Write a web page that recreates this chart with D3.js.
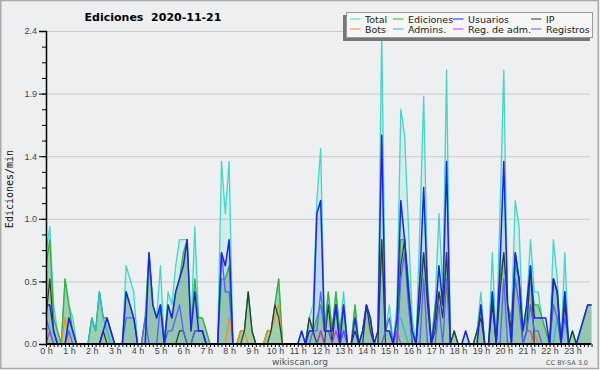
<!DOCTYPE html>
<html>
<head>
<meta charset="utf-8">
<script src="https://cdn.jsdelivr.net/npm/d3@7"></script>
<style>
body { margin: 0; background: #eeeff1; }
svg { display: block; font-family: "DejaVu Sans", sans-serif; }
</style>
</head>
<body>
<script>
// edits per minute, one value every 10 minutes (144 points, 00:00 -> 23:50)
var total = [
  0.7,0.9,0.3,0.1,0,0.5,0.3,0.2,0,0,0,0,
  0.2,0.1,0.4,0.2,0.2,0.1,0,0,0,0.6,0.5,0.4,
  0,0,0.2,0.7,0.3,0.2,0.6,0,0.4,0.3,0.6,0.8,
  0.8,0.8,0.1,0.9,0.2,0.2,0.1,0,0,0,1.4,1.0,
  1.4,0,0,0.1,0.1,0.4,0.1,0,0,0,0.1,0.1,
  0.3,0.5,0,0,0,0,0,0.1,0,0.2,0.3,1.1,
  1.5,0.1,0.4,0.1,0.4,0.1,0.4,0,0,0.3,0,0.1,
  0.3,0.2,0,0.1,2.4,0.1,0.3,0,0.3,1.8,1.6,0.9,
  0.2,0,0.9,1.9,0.5,0,0.3,1.0,0.4,2.1,0,0.1,
  0,0,0.1,0,0,0.1,0.4,0,0,0.7,0,1.0,
  2.1,0.3,0.2,1.1,0.9,0.1,0.3,0.8,0.4,0.4,0.2,0.1,
  0,0.8,0.5,0,0.7,0,0.1,0,0.1,0.2,0.3,0.3
];
var ediciones = [
  0.6,0.8,0.2,0.1,0,0.5,0.3,0.1,0,0,0,0,
  0.2,0.1,0.4,0.2,0.2,0.1,0,0,0,0.4,0.3,0.2,
  0,0,0.2,0.7,0.3,0.2,0.3,0,0.3,0.2,0.4,0.5,
  0.7,0.8,0.1,0.5,0.2,0.2,0.1,0,0,0,0.5,0.5,
  0.6,0,0,0.1,0.1,0.4,0.1,0,0,0,0.1,0.1,
  0.3,0.5,0,0,0,0,0,0,0,0.2,0.1,0.2,
  0.3,0.1,0.4,0.1,0.4,0.1,0.3,0,0,0.3,0,0.1,
  0.3,0.2,0,0,0.8,0.1,0.1,0,0.1,0.8,0.8,0.5,
  0.1,0,0.5,0.7,0.4,0,0.3,0.4,0.3,0.7,0,0.1,
  0,0,0,0,0,0.1,0.3,0,0,0.4,0,0.5,
  0.7,0.3,0.2,0.6,0.5,0.1,0.2,0.5,0.3,0.3,0.2,0.1,
  0,0.5,0.4,0,0.4,0,0.1,0,0.1,0.2,0.3,0.3
];
var usuarios = [
  0.3,0.3,0.1,0,0,0,0.2,0.1,0,0,0,0,
  0,0,0,0.1,0.2,0.1,0,0,0,0.4,0.3,0.2,
  0,0,0,0.7,0.3,0.2,0.3,0,0.3,0.2,0.4,0.5,
  0.6,0.8,0.1,0.4,0.1,0.1,0,0,0,0,0.7,0.6,
  0.8,0,0,0,0,0,0,0,0,0,0,0,
  0,0,0,0,0,0,0,0.1,0,0.1,0.1,1.0,
  1.1,0.1,0.1,0.1,0.3,0,0.3,0,0,0.2,0,0.1,
  0.3,0.2,0,0.1,1.6,0.1,0.1,0,0.2,1.1,0.8,0.4,
  0.1,0,0.5,1.2,0.4,0,0.2,0.6,0.3,1.4,0,0,
  0,0,0.1,0,0,0,0.3,0,0,0.4,0,0.6,
  1.4,0.3,0,0.7,0.5,0.1,0.3,0.6,0.2,0.2,0.2,0.2,
  0,0.5,0.4,0,0.4,0,0,0,0.1,0.2,0.3,0.3
];
var ip = [
  0.2,0.5,0.1,0,0,0,0,0,0,0,0,0,
  0,0,0,0.1,0,0,0,0,0,0,0,0,
  0,0,0,0,0,0,0,0,0,0,0,0.1,
  0.1,0,0,0.1,0.1,0.1,0,0,0,0,0,0,
  0,0,0,0,0.1,0.4,0.1,0,0,0,0,0.1,
  0.3,0.2,0,0,0,0,0,0,0,0.2,0.1,0,
  0.1,0,0.3,0,0.3,0,0.1,0,0,0.1,0,0,
  0.3,0.1,0,0,0.8,0,0,0,0,0.6,0.8,0.4,
  0,0,0.3,0.7,0.3,0,0.1,0.4,0.2,0.7,0,0.1,
  0,0,0,0,0,0.1,0.2,0,0,0.3,0,0.4,
  0.7,0.3,0.1,0.7,0.5,0,0.1,0.6,0,0,0,0,
  0,0.5,0.4,0,0.3,0,0.1,0,0,0,0,0
];
var bots = [
  0,0,0,0,0,0.2,0,0,0,0,0,0,
  0,0,0,0,0,0,0,0,0,0,0,0,
  0,0,0,0,0,0,0,0,0,0,0,0,
  0,0,0,0,0,0,0,0,0,0,0,0,
  0.2,0,0,0.1,0.1,0,0,0,0,0,0.1,0.1,
  0.2,0.3,0,0,0,0,0,0,0,0,0,0,
  0,0,0,0,0,0,0,0,0,0,0,0,
  0,0,0,0,0,0,0,0,0,0,0,0,
  0,0,0,0,0,0,0,0,0,0,0,0,
  0,0,0,0,0,0,0,0,0,0,0,0,
  0,0,0,0,0,0,0,0,0.1,0,0,0,
  0,0,0,0,0,0,0,0,0,0,0,0
];
var admins = [
  0,0,0,0,0,0,0.2,0.1,0,0,0,0,
  0.2,0.1,0.4,0.2,0.1,0,0,0,0,0,0,0,
  0,0,0,0,0,0,0,0,0,0,0,0,
  0,0,0,0,0,0,0,0,0,0,0,0,
  0,0,0,0,0,0,0,0,0,0,0,0,
  0,0,0,0,0,0,0,0,0,0,0,0,
  0,0,0,0,0,0,0,0,0,0,0,0,
  0,0,0,0,0,0,0,0,0.2,0.2,0.1,0,
  0,0,0,0,0,0,0,0,0,0,0,0,
  0,0,0,0,0,0,0,0,0,0,0,0,
  0,0,0,0,0,0,0.1,0.3,0.1,0,0,0,
  0,0,0.2,0,0,0,0,0,0,0,0,0
];
var regAdm = [
  0,0.1,0,0,0,0,0,0,0,0,0,0,
  0,0,0,0,0,0,0,0,0,0,0,0,
  0,0,0,0,0,0,0,0,0,0,0,0,
  0,0,0,0,0,0,0,0,0,0,0,0,
  0,0,0,0,0,0,0,0,0,0,0,0,
  0,0,0,0,0,0,0,0,0,0,0,0,
  0.1,0,0,0,0.1,0,0,0,0,0,0,0,
  0,0,0,0,0,0,0,0,0.1,0,0,0,
  0,0,0,0,0,0,0,0,0,0,0,0,
  0,0,0,0,0,0,0,0,0,0,0,0,
  0,0,0,0,0,0,0.1,0.1,0,0,0,0,
  0,0,0,0,0,0,0,0,0,0,0,0
];
var registros = [
  0.2,0.1,0,0,0,0,0.1,0,0,0,0,0,
  0,0,0,0,0,0,0,0,0,0.2,0.2,0.2,
  0,0,0.2,0,0,0,0.3,0,0.1,0.1,0.2,0.3,
  0.1,0,0,0.1,0.1,0.1,0,0,0,0,0.7,0.4,
  0.4,0,0,0,0,0,0,0,0,0,0,0,
  0,0,0,0,0,0,0,0,0,0,0.1,0.1,
  0.4,0.1,0.1,0,0,0,0.1,0,0,0,0,0,
  0,0,0,0,0,0.1,0.2,0,0,0.5,0.7,0.3,
  0,0,0,0.5,0,0,0,0.3,0,0.5,0,0,
  0,0,0,0,0,0,0,0,0,0,0,0,
  0.5,0,0,0.5,0.3,0,0.1,0.3,0.1,0.1,0,0,
  0,0.3,0.2,0,0.2,0,0,0,0,0,0,0
];

var yTicks = [0, 0.48, 0.96, 1.44, 1.92, 2.4];
var yTickLabels = ["0.0", "0.5", "1.0", "1.4", "1.9", "2.4"];
var hourLabels = d3.range(24).map(h => h + " h");
var legendNames = ["Total", "Ediciones", "Usuarios", "IP", "Bots", "Admins.", "Reg. de adm.", "Registros"];

var w = 600;
var h = 370;
var colors = {
    total: "#3fd8c8", ediciones: "#36b236", usuarios: "#1b22f0", ip: "#2e3a2e",
    bots: "#f39019", admins: "#2ab8d8", regAdm: "#cc33ee", registros: "#5560ff"
};
var legendColors = [colors.total, colors.ediciones, colors.usuarios, colors.ip,
    colors.bots, colors.admins, colors.regAdm, colors.registros];

var svg = d3.select("body").append("svg")
    .attr("width", w)
    .attr("height", h);

svg.append("rect")
    .attr("x", 0).attr("y", 0).attr("width", w).attr("height", h)
    .style("fill", "#eeeff1");

var x = d3.scaleLinear().domain([0, 1440]).range([46, 46 + 24 * 22.89]);
var y = d3.scaleLinear().domain([0, 2.4]).range([344, 31]);

// gridlines
svg.append("g")
    .attr("class", "grid")
    .attr("transform", "translate(46,0)")
    .call(d3.axisLeft(y).tickValues(yTicks).tickSize(-544).tickFormat(""))
    .call(g => g.select(".domain").remove())
    .call(g => g.selectAll("line").style("stroke", "#c9c9c9"));

svg.append("clipPath").attr("id", "plot")
    .append("rect").attr("x", 46).attr("y", 20).attr("width", 546).attr("height", 324);

var plot = svg.append("g").attr("clip-path", "url(#plot)");

var area = d3.area()
    .x((d, i) => x(i * 10))
    .y0(y(0))
    .y1(d => y(d));
var line = d3.line()
    .x((d, i) => x(i * 10))
    .y(d => y(d));

// areas
plot.append("path").attr("d", area(total)).style("fill", "rgba(64,224,208,0.15)");
plot.append("path").attr("d", area(usuarios)).style("fill", "rgba(40,60,255,0.11)");
plot.append("path").attr("d", area(ediciones)).style("fill", "rgba(80,168,80,0.4)");

// lines
var series = [
    [total, colors.total, 1.3],
    [ediciones, colors.ediciones, 1.3],
    [admins, colors.admins, 1.2],
    [bots, colors.bots, 1.2],
    [ip, colors.ip, 1.2],
    [regAdm, colors.regAdm, 1.2],
    [registros, colors.registros, 1.3],
    [usuarios, colors.usuarios, 1.5]
];
series.forEach(s => {
    plot.append("path")
        .attr("d", line(s[0]))
        .style("fill", "none")
        .style("stroke", s[1])
        .style("stroke-width", s[2])
        .style("stroke-linejoin", "round");
});

// y axis
var yAxisG = svg.append("g")
    .attr("transform", "translate(46,0)")
    .call(d3.axisLeft(y).tickValues(yTicks).tickSize(7).tickPadding(2)
        .tickFormat((d, i) => yTickLabels[i]));
yAxisG.select(".domain").style("stroke", "#000").style("stroke-width", 1.5);
yAxisG.selectAll("text").style("font-size", "9px").style("fill", "#444");

svg.append("g")
    .attr("transform", "translate(46,0)")
    .call(d3.axisLeft(y).tickValues(d3.range(0, 20).map(i => i * 0.12)).tickSize(4).tickFormat(""))
    .call(g => g.select(".domain").remove());

// x axis
svg.append("g")
    .attr("transform", "translate(0,344)")
    .call(d3.axisBottom(x).tickValues(d3.range(0, 1440, 10)).tickSize(3).tickFormat(""))
    .call(g => g.select(".domain").remove());

var xAxisG = svg.append("g")
    .attr("transform", "translate(0,344)")
    .call(d3.axisBottom(x).tickValues(d3.range(0, 1440, 60)).tickSize(0).tickPadding(4)
        .tickFormat((d, i) => hourLabels[i]));
xAxisG.select(".domain").remove();
xAxisG.selectAll("text").style("font-size", "9px").style("fill", "#444");

svg.append("line")
    .attr("x1", 46).attr("x2", 591).attr("y1", 344).attr("y2", 344)
    .style("stroke", "#000").style("stroke-width", 1.8);

// titles
svg.append("text")
    .attr("x", 153).attr("y", 21)
    .attr("text-anchor", "middle")
    .style("font-size", "11px").style("font-weight", "bold")
    .text("Ediciones\u00a0\u00a02020-11-21");

svg.append("text")
    .attr("transform", "translate(13,189) rotate(-90)")
    .attr("text-anchor", "middle")
    .style("font-family", "'DejaVu Sans Mono', monospace")
    .style("font-size", "10px")
    .style("fill", "#111")
    .text("Ediciones/min");

svg.append("text")
    .attr("x", 300).attr("y", 365)
    .attr("text-anchor", "middle")
    .style("font-size", "9px").style("fill", "#555")
    .text("wikiscan.org");

svg.append("text")
    .attr("x", 588).attr("y", 365)
    .attr("text-anchor", "end")
    .style("font-size", "6.5px").style("fill", "#555")
    .text("CC BY-SA 3.0");

// legend
var legend = svg.append("g").attr("id", "legend");
legend.append("rect")
    .attr("x", 343).attr("y", 15).attr("width", 247).attr("height", 26)
    .style("fill", "#777");
legend.append("rect")
    .attr("x", 346.5).attr("y", 12.5).attr("width", 246).attr("height", 25)
    .style("fill", "#f6f6f6").style("stroke", "#999");
var colX = [350, 393, 453, 531];
legendNames.forEach((name, i) => {
    var cx = colX[i % 4];
    var cy = 19 + Math.floor(i / 4) * 10;
    legend.append("line")
        .attr("x1", cx).attr("x2", cx + 10.5)
        .attr("y1", cy).attr("y2", cy)
        .style("stroke", legendColors[i]).style("stroke-width", 1);
    legend.append("text")
        .attr("x", cx + 15).attr("y", cy + 3.5)
        .style("font-size", "9.5px").style("fill", "#222")
        .text(name);
});

// frame
svg.append("rect")
    .attr("x", 0.75).attr("y", 0.5).attr("width", 597.5).attr("height", 368)
    .style("fill", "none").style("stroke", "#aaa").style("stroke-width", 1.5);
</script>
</body>
</html>
